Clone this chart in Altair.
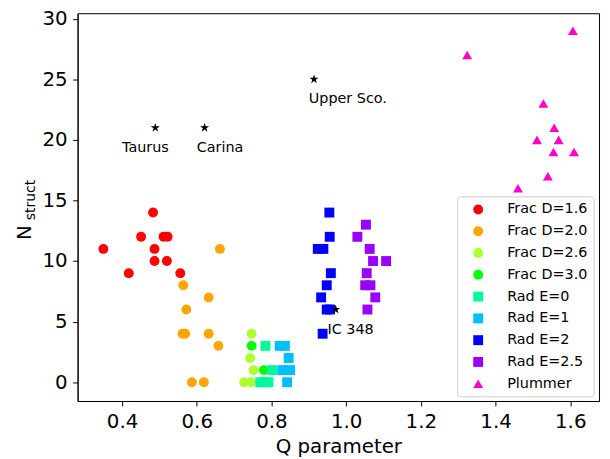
import altair as alt
import pandas as pd

# ---- data ----
series_names = ["Frac D=1.6", "Frac D=2.0", "Frac D=2.6", "Frac D=3.0",
                "Rad E=0", "Rad E=1", "Rad E=2", "Rad E=2.5", "Plummer"]
series_colors = ["#ff0000", "#ffa500", "#adff2f", "#00ff00",
                 "#00fa9a", "#00bfff", "#0000ff", "#9a00ff", "#ff00cc"]
series_shapes = ["circle", "circle", "circle", "circle",
                 "square", "square", "square", "square", "triangle-up"]

frac16_q = [0.350, 0.418, 0.451, 0.483, 0.487, 0.487, 0.511, 0.522, 0.520, 0.556]
frac16_n = [11, 9, 12, 14, 11, 10, 12, 12, 10, 9]

frac20_q = [0.662, 0.564, 0.632, 0.572, 0.562, 0.569, 0.632, 0.658, 0.587, 0.619]
frac20_n = [11, 8, 7, 6, 4, 4, 4, 3, 0, 0]

frac26_q = [0.747, 0.743, 0.752, 0.727, 0.745]
frac26_n = [4, 2, 1, 0, 0]

frac30_q = [0.747, 0.780]
frac30_n = [3, 1]

rad0_q = [0.784, 0.802, 0.770, 0.781, 0.792]
rad0_n = [3, 1, 0, 0, 0]

rad1_q = [0.822, 0.836, 0.846, 0.829, 0.850, 0.842]
rad1_n = [3, 3, 2, 1, 1, 0]

rad2_q = [0.955, 0.956, 0.924, 0.939, 0.959, 0.948, 0.933, 0.948, 0.957, 0.937]
rad2_n = [14, 12, 11, 11, 9, 8, 7, 6, 6, 4]

rad25_q = [1.053, 1.030, 1.063, 1.072, 1.107, 1.055, 1.051, 1.065, 1.078, 1.057]
rad25_n = [13, 12, 11, 10, 10, 9, 8, 8, 7, 6]

plummer_q = [1.607, 1.324, 1.528, 1.557, 1.511, 1.569, 1.555, 1.610, 1.540, 1.460]
plummer_n = [29, 27, 23, 21, 20, 20, 19, 19, 17, 16]

cluster_names = ["Taurus", "Carina", "Upper Sco.", "IC 348"]
cluster_q = [0.489, 0.621, 0.914, 0.972]
cluster_n = [21, 21, 25, 6]
label_q = [0.40, 0.60, 0.90, 0.95]
label_n = [19, 19, 23, 4]

x_ticks = [0.4, 0.6, 0.8, 1.0, 1.2, 1.4, 1.6]
y_ticks = [0, 5, 10, 15, 20, 25, 30]
x_title = "Q parameter"
y_title_main = ["N"]
y_title_sub = ["struct"]

# ---- build table ----
all_q = [frac16_q, frac20_q, frac26_q, frac30_q, rad0_q, rad1_q, rad2_q, rad25_q, plummer_q]
all_n = [frac16_n, frac20_n, frac26_n, frac30_n, rad0_n, rad1_n, rad2_n, rad25_n, plummer_n]
rows = []
for name, qs, ns in zip(series_names, all_q, all_n):
    for q, n in zip(qs, ns):
        rows.append({"series": name, "q": q, "n": n})
df = pd.DataFrame(rows)

clusters = pd.DataFrame({"name": cluster_names, "q": cluster_q, "n": cluster_n,
                         "lq": label_q, "ln": label_n})

FONT = "DejaVu Sans"
STAR = ("M0,-1L0.2245,-0.309L0.951,-0.309L0.363,0.118L0.588,0.809L0,0.382"
        "L-0.588,0.809L-0.363,0.118L-0.951,-0.309L-0.2245,-0.309Z")

xscale = alt.Scale(domain=[0.281, 1.677], nice=False, zero=False)
yscale = alt.Scale(domain=[-1.55, 30.45], nice=False, zero=False)

legend = alt.Legend(title=None, orient="none", legendX=383.4, legendY=185,
                    padding=6, symbolOffset=8, symbolSize=100, labelOffset=22,
                    rowPadding=7, labelFontSize=14.5, labelFont=FONT,
                    labelColor="black", strokeColor="#cccccc",
                    fillColor="rgba(255,255,255,0.8)", cornerRadius=3,
                    symbolStrokeWidth=0, symbolOpacity=1, labelLimit=0)

xaxis = alt.Axis(values=x_ticks, format=".1f", title=x_title, grid=False,
                 labelPadding=6, titlePadding=5, tickSize=5)
yaxis = alt.Axis(values=y_ticks, title=None, grid=False, labelPadding=5.5,
                 tickSize=5)

points = alt.Chart(df).mark_point(filled=True, size=100, opacity=1,
                                  strokeWidth=0).encode(
    x=alt.X("q:Q", scale=xscale, axis=xaxis),
    y=alt.Y("n:Q", scale=yscale, axis=yaxis),
    color=alt.Color("series:N", scale=alt.Scale(domain=series_names, range=series_colors),
                    legend=legend),
    shape=alt.Shape("series:N", scale=alt.Scale(domain=series_names, range=series_shapes),
                    legend=legend),
)

stars = alt.Chart(clusters).mark_point(shape=STAR, filled=True, color="black",
                                       size=96, opacity=1, strokeWidth=0).encode(
    x=alt.X("q:Q", scale=xscale),
    y=alt.Y("n:Q", scale=yscale),
)

labels = alt.Chart(clusters).mark_text(align="left", baseline="alphabetic",
                                       fontSize=14.5, font=FONT, color="black").encode(
    x=alt.X("lq:Q", scale=xscale),
    y=alt.Y("ln:Q", scale=yscale),
    text="name:N",
)

ytitle_n = alt.Chart(pd.DataFrame({"t": y_title_main})).mark_text(
    angle=270, align="left", baseline="alphabetic", fontSize=20, font=FONT,
    color="black").encode(x=alt.value(-46.6), y=alt.value(229), text="t:N")

ytitle_s = alt.Chart(pd.DataFrame({"t": y_title_sub})).mark_text(
    angle=270, align="left", baseline="alphabetic", fontSize=14, font=FONT,
    color="black").encode(x=alt.value(-43.3), y=alt.value(209), text="t:N")

chart = alt.layer(points, stars, labels, ytitle_n, ytitle_s).properties(
    width=526.7, height=391.7,
    autosize=alt.AutoSizeParams(type="none"),
    padding={"left": 70.3, "top": 3, "right": 3, "bottom": 56},
).configure_view(
    stroke="black", strokeWidth=1
).configure_axis(
    labelFont=FONT, labelFontSize=20, labelColor="black",
    titleFont=FONT, titleFontSize=20, titleFontWeight="normal", titleColor="black",
    domainColor="black", tickColor="black", domainWidth=1, tickWidth=1,
)

chart.save("out.html", embed_options={"renderer": "svg", "actions": False})
